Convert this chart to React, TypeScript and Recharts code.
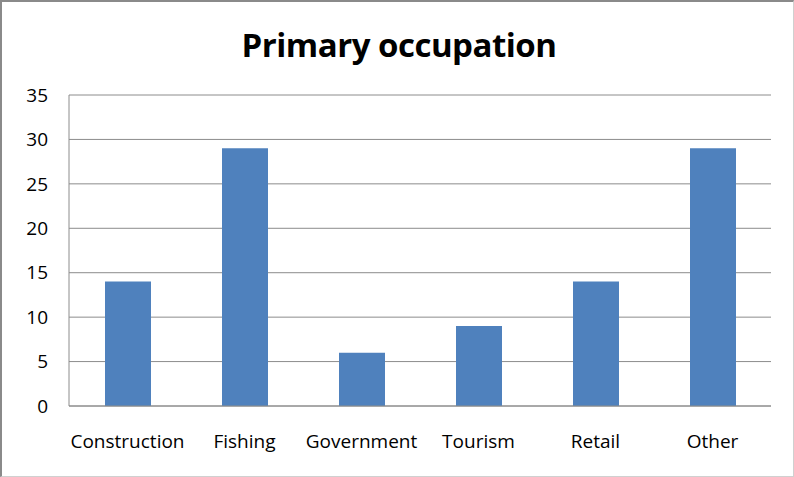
import { Bar, BarChart, CartesianGrid, XAxis, YAxis } from 'recharts'

const occupations = ['Construction', 'Fishing', 'Government', 'Tourism', 'Retail', 'Other']
const counts = [14, 29, 6, 9, 14, 29]
const yTicks = [0, 5, 10, 15, 20, 25, 30, 35]

const data = occupations.map((name, i) => ({ name, count: counts[i] }))

const font = '"Open Sans", sans-serif'

export default function App() {
  return (
    <div
      style={{
        position: 'relative',
        width: 794,
        height: 477,
        boxSizing: 'border-box',
        borderTop: '2px solid #8a8a8a',
        borderLeft: '2px solid #8a8a8a',
        borderRight: '1px solid #d0d0d0',
        borderBottom: '1px solid #d0d0d0',
        background: '#fff',
        fontFamily: font,
      }}
    >
      <style>{'body { margin: 0; }'}</style>
      <div
        style={{
          position: 'absolute',
          top: 20,
          left: 0,
          width: 794,
          textAlign: 'center',
          fontSize: 33,
          fontWeight: 700,
          color: '#000',
          letterSpacing: -0.5,
        }}
      >
        Primary occupation
      </div>
      <BarChart
        width={792}
        height={474}
        data={data}
        margin={{ top: 93, right: 23, bottom: 40, left: 7 }}
        style={{ position: 'absolute', top: 0, left: 0 }}
      >
        <CartesianGrid vertical={false} stroke="#8c8c8c" />
        <XAxis
          dataKey="name"
          height={30}
          tickLine={false}
          tickSize={0}
          tickMargin={29}
          axisLine={{ stroke: '#8c8c8c' }}
          tick={{ fill: '#000', fontSize: 19, fontFamily: font }}
          interval={0}
        />
        <YAxis
          width={60}
          domain={[0, 35]}
          ticks={yTicks}
          tickLine={false}
          tickSize={0}
          tickMargin={21}
          axisLine={{ stroke: '#8c8c8c' }}
          tick={{ fill: '#000', fontSize: 19, fontFamily: font }}
        />
        <Bar dataKey="count" fill="#4f81bd" barSize={46} isAnimationActive={false} />
      </BarChart>
    </div>
  )
}
